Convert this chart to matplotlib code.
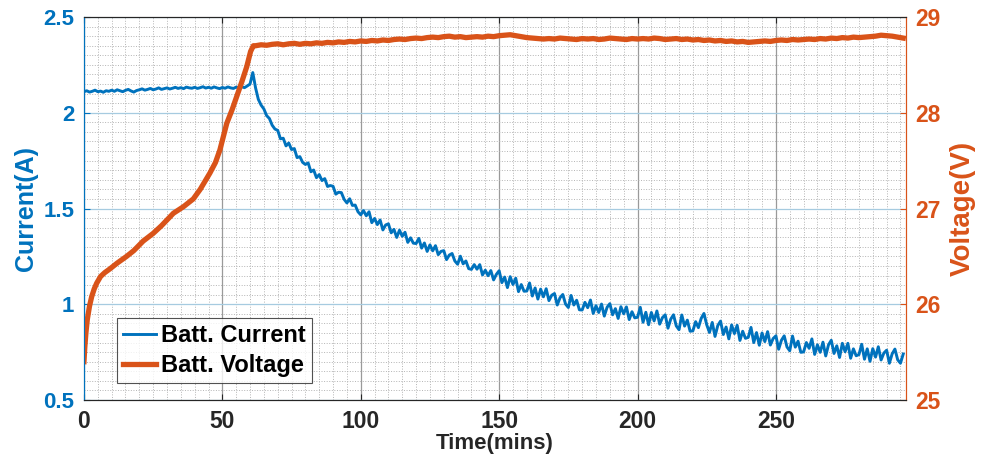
import numpy as np
import matplotlib.pyplot as plt
from matplotlib.ticker import MultipleLocator

plt.rcParams['font.family'] = ['Liberation Sans', 'DejaVu Sans']
plt.rcParams['font.weight'] = 'bold'
plt.rcParams['axes.labelweight'] = 'bold'

BLUE = '#0072BD'
ORANGE = '#D95319'
DARK = '#262626'

# battery current, one sample per minute (A)
cur_time = np.arange(0, 297)
cur_amps = [
    2.11, 2.115, 2.108, 2.112, 2.118, 2.11, 2.113, 2.107, 2.115, 2.112,
    2.118, 2.112, 2.12, 2.115, 2.11, 2.117, 2.122, 2.114, 2.108, 2.116,
    2.12, 2.125, 2.118, 2.122, 2.127, 2.12, 2.124, 2.13, 2.122, 2.126,
    2.13, 2.124, 2.128, 2.133, 2.127, 2.131, 2.126, 2.134, 2.13, 2.128,
    2.133, 2.127, 2.131, 2.136, 2.129, 2.133, 2.128, 2.135, 2.13, 2.126,
    2.132, 2.128, 2.135, 2.13, 2.127, 2.134, 2.13, 2.136, 2.131, 2.14,
    2.15, 2.21, 2.13, 2.07, 2.04, 2.02, 1.985, 1.97, 1.935, 1.915,
    1.908, 1.864, 1.867, 1.827, 1.842, 1.808, 1.813, 1.766, 1.771, 1.741,
    1.730, 1.738, 1.692, 1.701, 1.661, 1.677, 1.646, 1.656, 1.615, 1.620,
    1.616, 1.575, 1.585, 1.583, 1.548, 1.529, 1.551, 1.516, 1.518, 1.483,
    1.467, 1.489, 1.462, 1.483, 1.426, 1.448, 1.416, 1.44, 1.388, 1.414,
    1.42, 1.373, 1.391, 1.349, 1.387, 1.355, 1.376, 1.323, 1.347, 1.319,
    1.317, 1.344, 1.293, 1.32, 1.276, 1.31, 1.279, 1.306, 1.259, 1.276,
    1.28, 1.233, 1.257, 1.265, 1.226, 1.209, 1.251, 1.211, 1.226, 1.186,
    1.182, 1.207, 1.183, 1.207, 1.153, 1.178, 1.149, 1.176, 1.127, 1.156,
    1.175, 1.113, 1.142, 1.087, 1.144, 1.103, 1.136, 1.066, 1.103, 1.068,
    1.069, 1.111, 1.043, 1.085, 1.027, 1.079, 1.039, 1.081, 1.019, 1.047,
    1.056, 0.996, 1.034, 1.051, 1.001, 0.983, 1.046, 0.996, 1.021, 0.971,
    0.97, 1.01, 0.982, 1.022, 0.952, 0.992, 0.957, 1.001, 0.938, 0.984,
    1.003, 0.945, 0.977, 0.926, 0.987, 0.95, 0.986, 0.92, 0.961, 0.929,
    0.932, 0.984, 0.906, 0.958, 0.893, 0.957, 0.913, 0.965, 0.896, 0.93,
    0.945, 0.875, 0.922, 0.945, 0.887, 0.867, 0.944, 0.886, 0.917, 0.859,
    0.861, 0.909, 0.878, 0.926, 0.952, 0.893, 0.853, 0.905, 0.832, 0.889,
    0.912, 0.842, 0.881, 0.819, 0.892, 0.847, 0.89, 0.811, 0.859, 0.822,
    0.827, 0.879, 0.80, 0.852, 0.786, 0.85, 0.805, 0.857, 0.787, 0.821,
    0.835, 0.765, 0.812, 0.835, 0.777, 0.757, 0.834, 0.776, 0.807, 0.749,
    0.751, 0.80, 0.77, 0.819, 0.738, 0.788, 0.749, 0.802, 0.73, 0.788,
    0.812, 0.743, 0.783, 0.722, 0.796, 0.752, 0.796, 0.718, 0.767, 0.731,
    0.737, 0.791, 0.713, 0.767, 0.702, 0.768, 0.724, 0.778, 0.709, 0.745,
    0.76, 0.692, 0.741, 0.766, 0.71, 0.692, 0.74,
]

# battery voltage: charging ramp, then constant-voltage plateau every 2 min (V)
ramp_time = [0, 0.3, 0.7, 1.2, 2, 2.8, 3.7, 4.6, 6, 7.5, 9.4, 12, 15.4, 18, 21.4,
             25, 28, 32.3, 36, 39.5, 42, 45.5, 47.5, 49.1, 51.6, 53.5, 55.2, 57,
             58.8, 60.2, 61.2]
ramp_volts = [25.40, 25.55, 25.70, 25.84, 25.98, 26.08, 26.16, 26.22, 26.29, 26.33,
              26.37, 26.43, 26.50, 26.56, 26.66, 26.74, 26.82, 26.95, 27.02, 27.10,
              27.20, 27.37, 27.48, 27.61, 27.89, 28.03, 28.17, 28.32, 28.48, 28.64,
              28.70]
plateau_time = np.arange(62, 297, 2)
plateau_volts = [
    28.70, 28.71, 28.705, 28.715, 28.72, 28.71, 28.72, 28.725, 28.715, 28.725,
    28.72, 28.73, 28.725, 28.735, 28.73, 28.74, 28.735, 28.745, 28.74, 28.75,
    28.745, 28.755, 28.75, 28.76, 28.755, 28.765, 28.77, 28.765, 28.775, 28.78,
    28.775, 28.785, 28.79, 28.785, 28.795, 28.80, 28.79, 28.795, 28.785, 28.79,
    28.795, 28.79, 28.80, 28.795, 28.805, 28.81, 28.815, 28.805, 28.795, 28.785,
    28.78, 28.775, 28.77, 28.775, 28.77, 28.78, 28.775, 28.77, 28.765, 28.775,
    28.77, 28.775, 28.765, 28.77, 28.78, 28.775, 28.77, 28.765, 28.775, 28.77,
    28.775, 28.77, 28.78, 28.775, 28.765, 28.77, 28.775, 28.765, 28.77, 28.76,
    28.765, 28.755, 28.76, 28.75, 28.755, 28.745, 28.75, 28.74, 28.745, 28.735,
    28.74, 28.745, 28.75, 28.745, 28.755, 28.76, 28.755, 28.765, 28.76, 28.765,
    28.77, 28.765, 28.775, 28.77, 28.78, 28.775, 28.785, 28.78, 28.79, 28.785,
    28.79, 28.795, 28.80, 28.81, 28.805, 28.80, 28.79, 28.78,
]
volt_time = np.concatenate([ramp_time, plateau_time])
volt_values = np.concatenate([ramp_volts, plateau_volts])

fig = plt.figure(figsize=(9.82, 4.65), dpi=100)
ax = fig.add_axes([0.0855, 0.1398, 0.8371, 0.8236])
ax2 = ax.twinx()

l1, = ax.plot(cur_time, cur_amps, color=BLUE, lw=2.1, label='Batt. Current')
l2, = ax2.plot(volt_time, volt_values, color=ORANGE, lw=3.8, label='Batt. Voltage')

ax.set_xlim(0, 297)
ax.set_ylim(0.5, 2.5)
ax2.set_ylim(25, 29)
ax.set_xticks([0, 50, 100, 150, 200, 250])
ax.set_yticks([0.5, 1, 1.5, 2, 2.5])
ax.set_yticklabels(['0.5', '1', '1.5', '2', '2.5'])
ax2.set_yticks([25, 26, 27, 28, 29])
ax.xaxis.set_minor_locator(MultipleLocator(5))
ax.yaxis.set_minor_locator(MultipleLocator(0.05))

# MATLAB-like grid: solid majors, dotted minors
ax.set_axisbelow(True)
ax.grid(which='minor', color='#b4b4b4', linestyle=':', lw=0.7)
ax.xaxis.grid(True, which='major', color='#9a9a9a', lw=0.9)
ax.yaxis.grid(True, which='major', color='#a6cbe0', lw=0.9)

ax.tick_params(axis='x', which='major', direction='in', length=4, top=True,
               colors=DARK, labelsize=16.5, pad=7)
ax.tick_params(axis='y', which='major', direction='in', length=4,
               colors=BLUE, labelsize=16, pad=7)
ax.tick_params(which='minor', length=0)
ax2.tick_params(axis='y', direction='in', length=4, colors=ORANGE,
                labelsize=16.5, pad=7)

for side in ['top', 'bottom']:
    ax.spines[side].set_color(DARK)
    ax2.spines[side].set_color(DARK)
ax2.spines['left'].set_color(BLUE)
ax2.spines['right'].set_color(ORANGE)
ax.spines['left'].set_color(BLUE)
ax.spines['right'].set_color(ORANGE)

ax.set_xlabel('Time(mins)', fontsize=16, color=DARK, labelpad=0)
ax.set_ylabel('Current(A)', fontsize=18, color=BLUE, labelpad=4)
ax2.set_ylabel('Voltage(V)', fontsize=20, color=ORANGE, labelpad=6)

leg = ax2.legend(handles=[l1, l2], loc='lower left', bbox_to_anchor=(0.0405, 0.045),
                 borderaxespad=0, fontsize=17, frameon=True, fancybox=False,
                 handlelength=1.4, handletextpad=0.2, borderpad=0.25,
                 labelspacing=0.3)
leg.get_frame().set_edgecolor(DARK)
leg.get_frame().set_linewidth(0.8)

fig.savefig('out.png', dpi=100)
